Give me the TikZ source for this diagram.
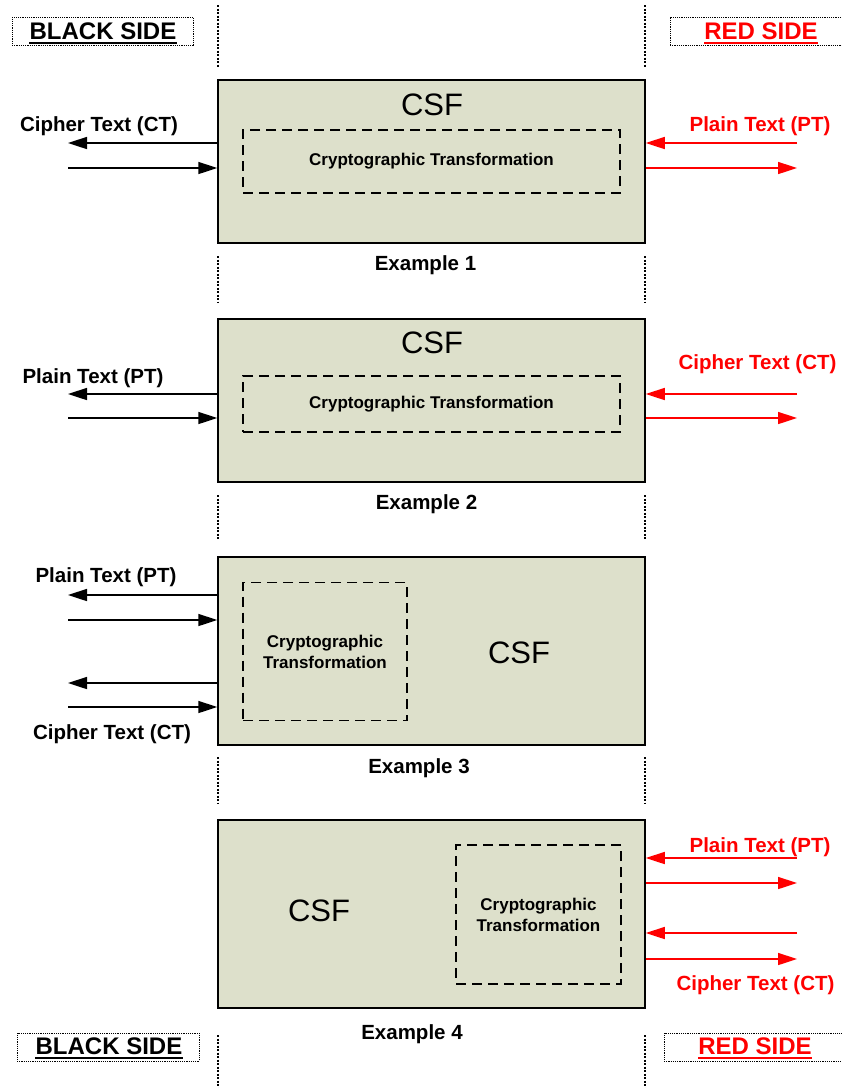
\documentclass[tikz,border=0pt]{standalone}
\usepackage{fontspec}
\setmainfont{Liberation Sans}
\usetikzlibrary{arrows.meta}
\definecolor{csfgreen}{RGB}{221,224,203}
\definecolor{redside}{RGB}{255,0,0}
\tikzset{
    csfbox/.style={draw=black,line width=1.5pt,fill=csfgreen,minimum width=427pt,inner sep=0pt},
    ctbox/.style={draw=black,line width=1.5pt,dash pattern=on 10pt off 6pt,inner sep=0pt,
        align=center,font=\fontsize{17}{21}\selectfont\bfseries},
    csflabel/.style={font=\fontsize{31}{36}\selectfont,inner sep=0pt},
    iolabel/.style={font=\fontsize{20.5}{24}\selectfont\bfseries,inner sep=0pt,yshift=-2pt},
    exlabel/.style={font=\fontsize{20.5}{24}\selectfont\bfseries,inner sep=0pt,yshift=-2pt},
    sidebox/.style={draw=black,line width=1pt,dash pattern=on 1.2pt off 1pt,inner sep=0pt},
    sidetext/.style={font=\fontsize{24}{28}\selectfont\bfseries,inner sep=0pt},
    boundary/.style={line width=1.6pt,dash pattern=on 2pt off 1.5pt},
    flow/.style={line width=1.6pt,-{Triangle[length=19pt,width=12pt]}},
}
\begin{document}
\begin{tikzpicture}[x=1pt,y=-1pt]
    \useasboundingbox (0,0) rectangle (842,1088);

    % Black / red boundary lines
    \foreach \ya/\yb in {5/68,256/303,495/540,757/803,1035/1088} {
        \draw[boundary] (218,\ya) -- (218,\yb);
        \draw[boundary] (645,\ya) -- (645,\yb);
    }

    % Side labels
    \node[sidebox,minimum width=181pt,minimum height=28pt] (blacktop) at (102.5,31) {};
    \node[sidetext] (blacktoptxt) at (103,31) {BLACK SIDE};
    \draw[line width=2pt] ([yshift=-3.5pt]blacktoptxt.base west) -- ([yshift=-3.5pt]blacktoptxt.base east);
    \node[sidebox,minimum width=176pt,minimum height=28pt] (redtop) at (758,31) {};
    \node[sidetext,text=redside] (redtoptxt) at (761,31) {RED SIDE};
    \draw[line width=2pt,redside] ([yshift=-3.5pt]redtoptxt.base west) -- ([yshift=-3.5pt]redtoptxt.base east);
    \node[sidebox,minimum width=182pt,minimum height=28pt] (blackbot) at (108,1047) {};
    \node[sidetext] (blackbottxt) at (109,1046) {BLACK SIDE};
    \draw[line width=2pt] ([yshift=-3.5pt]blackbottxt.base west) -- ([yshift=-3.5pt]blackbottxt.base east);
    \node[sidebox,minimum width=182pt,minimum height=28pt] (redbot) at (755,1047) {};
    \node[sidetext,text=redside] (redbottxt) at (755,1046) {RED SIDE};
    \draw[line width=2pt,redside] ([yshift=-3.5pt]redbottxt.base west) -- ([yshift=-3.5pt]redbottxt.base east);

    % Example 1
    \node[csfbox,minimum height=163pt] (ex1) at (431.5,161.5) {};
    \node[csflabel] (csf1) at (432,105) {CSF};
    \node[ctbox,minimum width=377pt,minimum height=63pt] (ct1) at (431.5,161.5) {Cryptographic Transformation};
    \node[exlabel] (ex1lbl) at (425.5,263) {Example 1};
    \coordinate (a1out) at (68,143);
    \coordinate (a1in) at (68,168);
    \coordinate (b1in) at (797,143);
    \coordinate (b1out) at (797,168);
    \draw[flow] (ex1.west |- a1out) -- (a1out);
    \draw[flow] (a1in) -- (ex1.west |- a1in);
    \draw[flow,redside] (b1in) -- (ex1.east |- b1in);
    \draw[flow,redside] (ex1.east |- b1out) -- (b1out);
    \node[iolabel] (a1lbl) at (99,124) {Cipher Text (CT)};
    \node[iolabel,text=redside] (b1lbl) at (760,124) {Plain Text (PT)};

    % Example 2
    \node[csfbox,minimum height=163pt] (ex2) at (431.5,400.5) {};
    \node[csflabel] (csf2) at (432,343) {CSF};
    \node[ctbox,minimum width=377pt,minimum height=56pt] (ct2) at (431.5,404) {Cryptographic Transformation};
    \node[exlabel] (ex2lbl) at (426.5,502) {Example 2};
    \coordinate (a2out) at (68,394);
    \coordinate (a2in) at (68,418);
    \coordinate (b2in) at (797,394);
    \coordinate (b2out) at (797,418);
    \draw[flow] (ex2.west |- a2out) -- (a2out);
    \draw[flow] (a2in) -- (ex2.west |- a2in);
    \draw[flow,redside] (b2in) -- (ex2.east |- b2in);
    \draw[flow,redside] (ex2.east |- b2out) -- (b2out);
    \node[iolabel] (a2lbl) at (93,376) {Plain Text (PT)};
    \node[iolabel,text=redside] (b2lbl) at (757.5,362) {Cipher Text (CT)};

    % Example 3
    \node[csfbox,minimum height=188pt] (ex3) at (431.5,651) {};
    \node[csflabel] (csf3) at (519,653) {CSF};
    \node[ctbox,minimum width=164pt,minimum height=138pt] (ct3) at (325,651.5) {Cryptographic\\Transformation};
    \node[exlabel] (ex3lbl) at (419,766) {Example 3};
    \coordinate (a3out) at (68,595);
    \coordinate (a3in) at (68,620);
    \coordinate (c3out) at (68,683);
    \coordinate (c3in) at (68,707);
    \draw[flow] (ex3.west |- a3out) -- (a3out);
    \draw[flow] (a3in) -- (ex3.west |- a3in);
    \draw[flow] (ex3.west |- c3out) -- (c3out);
    \draw[flow] (c3in) -- (ex3.west |- c3in);
    \node[iolabel] (a3lbl) at (106,575) {Plain Text (PT)};
    \node[iolabel] (c3lbl) at (112,732) {Cipher Text (CT)};

    % Example 4
    \node[csfbox,minimum height=188pt] (ex4) at (431.5,914) {};
    \node[csflabel] (csf4) at (319,911) {CSF};
    \node[ctbox,minimum width=165pt,minimum height=139pt] (ct4) at (538.5,914.5) {Cryptographic\\Transformation};
    \node[exlabel] (ex4lbl) at (412,1032) {Example 4};
    \coordinate (b4in) at (797,858);
    \coordinate (b4out) at (797,883);
    \coordinate (d4in) at (797,933);
    \coordinate (d4out) at (797,959);
    \draw[flow,redside] (b4in) -- (ex4.east |- b4in);
    \draw[flow,redside] (ex4.east |- b4out) -- (b4out);
    \draw[flow,redside] (d4in) -- (ex4.east |- d4in);
    \draw[flow,redside] (ex4.east |- d4out) -- (d4out);
    \node[iolabel,text=redside] (b4lbl) at (760,845) {Plain Text (PT)};
    \node[iolabel,text=redside] (d4lbl) at (755.5,983) {Cipher Text (CT)};
\end{tikzpicture}
\end{document}
